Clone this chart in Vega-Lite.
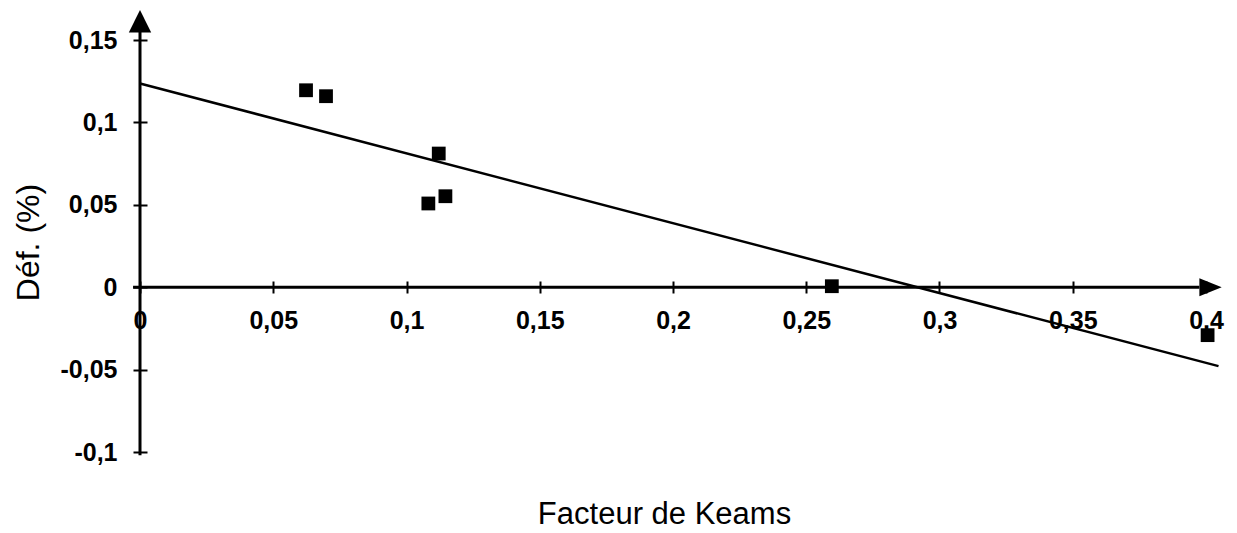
{
  "$schema": "https://vega.github.io/schema/vega-lite/v6.json",
  "width": 1066,
  "height": 412,
  "autosize": "none",
  "padding": {"left": 140, "top": 40, "right": 31, "bottom": 81},
  "background": "white",
  "config": {
    "view": {"stroke": null},
    "axis": {"labelFont": "Liberation Sans", "titleFont": "Liberation Sans", "labelColor": "black", "titleColor": "black", "tickColor": "black", "grid": false, "domain": false}
  },
  "datasets": {
    "points": [
      {"kearns": 0.0623, "def": 0.1195},
      {"kearns": 0.0698, "def": 0.1159},
      {"kearns": 0.1121, "def": 0.0811},
      {"kearns": 0.1146, "def": 0.0552},
      {"kearns": 0.1082, "def": 0.0508},
      {"kearns": 0.2596, "def": 0.0006},
      {"kearns": 0.4006, "def": -0.0291}
    ],
    "fit": [
      {"kearns": 0, "def": 0.1236},
      {"kearns": 0.4047, "def": -0.0479}
    ],
    "axes": [
      {"x1": 0, "y1": -0.102, "x2": 0, "y2": 0.156},
      {"x1": -0.0026, "y1": 0, "x2": 0.3975, "y2": 0}
    ],
    "arrows": [
      {"axis": "y", "kearns": 0, "def": 0.1614},
      {"axis": "x", "kearns": 0.4017, "def": 0}
    ]
  },
  "layer": [
    {
      "data": {"name": "points"},
      "mark": {"type": "point", "shape": "square", "filled": true, "size": 190, "color": "black", "opacity": 1},
      "encoding": {
        "x": {
          "field": "kearns", "type": "quantitative",
          "scale": {"domain": [0, 0.4], "nice": false, "zero": false},
          "axis": {
            "orient": "bottom", "offset": -171,
            "values": [0, 0.05, 0.1, 0.15, 0.2, 0.25, 0.3, 0.35, 0.4],
            "labelExpr": "replace(replace(format(datum.value, '.2~f'), '.', ','), '−', '-')",
            "labelFontSize": 25, "labelFontWeight": "bold", "labelPadding": 15,
            "tickSize": 12, "tickWidth": 2, "labelFlush": false,
            "title": "Facteur de Keams", "titleFontSize": 31, "titleFontWeight": "normal",
            "titleX": 524, "titleY": 233, "titleBaseline": "middle", "titleAlign": "center"
          }
        },
        "y": {
          "field": "def", "type": "quantitative",
          "scale": {"domain": [-0.1, 0.15], "nice": false, "zero": false},
          "axis": {
            "orient": "left", "offset": -7,
            "values": [-0.1, -0.05, 0, 0.05, 0.1, 0.15],
            "labelExpr": "replace(replace(format(datum.value, '.2~f'), '.', ','), '−', '-')",
            "labelFontSize": 25, "labelFontWeight": "bold", "labelPadding": 16,
            "tickSize": 14, "tickWidth": 2, "labelFlush": false,
            "title": "Déf. (%)", "titleFontSize": 32, "titleFontWeight": "normal",
            "titleAngle": -90, "titleX": -119, "titleY": 202, "titleBaseline": "middle", "titleAlign": "center"
          }
        }
      }
    },
    {
      "data": {"name": "fit"},
      "mark": {"type": "line", "color": "black", "strokeWidth": 2.5},
      "encoding": {
        "x": {"field": "kearns", "type": "quantitative"},
        "y": {"field": "def", "type": "quantitative"}
      }
    },
    {
      "data": {"name": "axes"},
      "mark": {"type": "rule", "color": "black", "strokeWidth": 3},
      "encoding": {
        "x": {"field": "x1", "type": "quantitative"},
        "y": {"field": "y1", "type": "quantitative"},
        "x2": {"field": "x2"},
        "y2": {"field": "y2"}
      }
    },
    {
      "data": {"name": "arrows"},
      "mark": {"type": "point", "filled": true, "size": 500, "color": "black", "opacity": 1},
      "encoding": {
        "x": {"field": "kearns", "type": "quantitative"},
        "y": {"field": "def", "type": "quantitative"},
        "shape": {
          "field": "axis", "type": "nominal", "legend": null,
          "scale": {"domain": ["y", "x"], "range": ["M-1,1L0,-1L1,1Z", "M-1,-0.8L1,0L-1,0.8Z"]}
        }
      }
    }
  ]
}
